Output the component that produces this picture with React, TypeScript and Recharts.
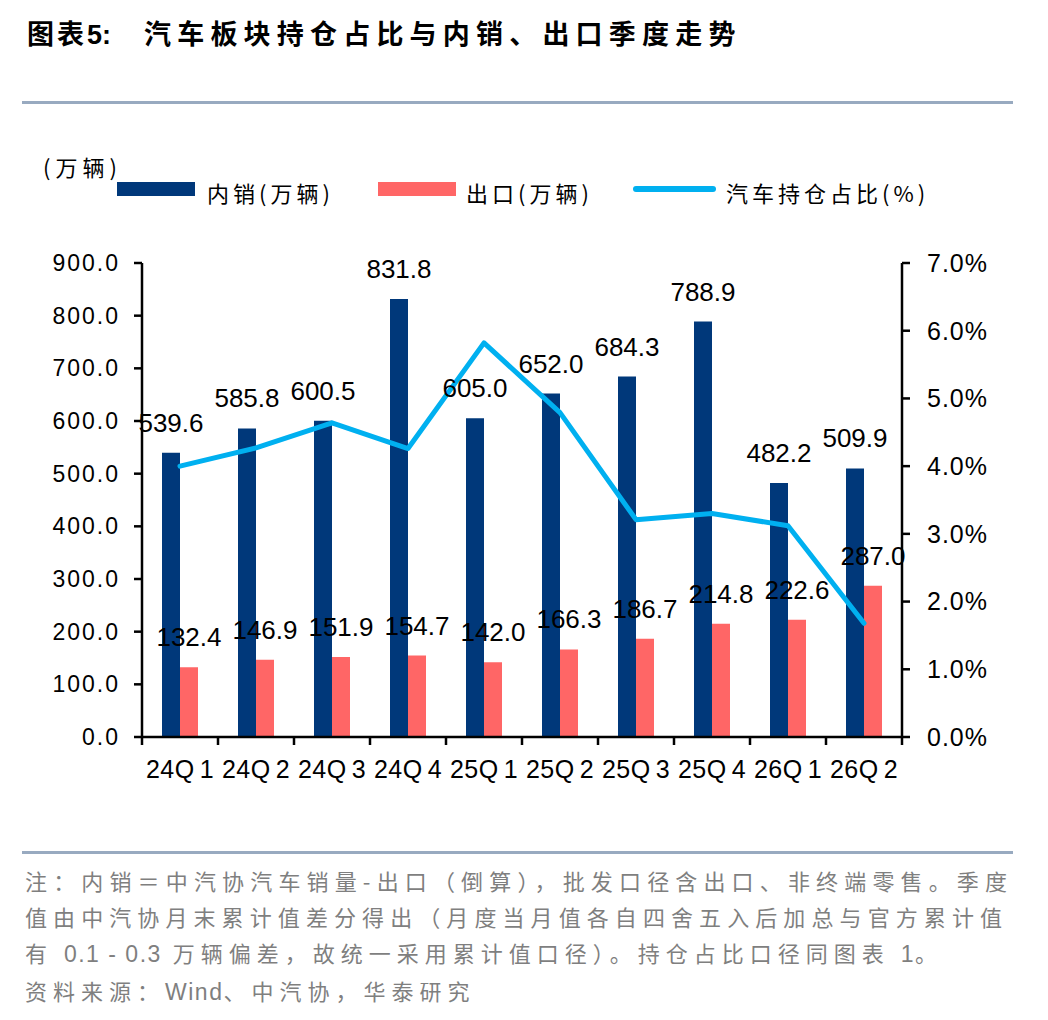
import React from 'react';
import { ComposedChart, Bar, Line, XAxis, YAxis, LabelList } from 'recharts';

const quarters = ['24Q1', '24Q2', '24Q3', '24Q4', '25Q1', '25Q2', '25Q3', '25Q4', '26Q1', '26Q2'];
const domesticSales = [539.6, 585.8, 600.5, 831.8, 605.0, 652.0, 684.3, 788.9, 482.2, 509.9];
const exportSales = [132.4, 146.9, 151.9, 154.7, 142.0, 166.3, 186.7, 214.8, 222.6, 287.0];
const holdingRatio = [4.0, 4.27, 4.64, 4.26, 5.82, 4.79, 3.21, 3.3, 3.12, 1.68];
const leftTicks = [0, 100, 200, 300, 400, 500, 600, 700, 800, 900];
const rightTicks = [0, 1, 2, 3, 4, 5, 6, 7];

const data = quarters.map((q, i) => ({
  q,
  domestic: domesticSales[i],
  exp: exportSales[i],
  ratio: holdingRatio[i],
}));

const NAVY = '#00387A';
const CORAL = '#FF6666';
const CYAN = '#00B0F0';
const LATIN = '"Liberation Sans", Arial, sans-serif';
const CJK = '"Noto Sans CJK SC", "Noto Sans", sans-serif';

const TICK_SIZE = 8;
const TICK_MARGIN = 15;

const XTick = (props: any) => {
  const { x, y, payload, index } = props;
  const half = payload && typeof payload.offset === 'number' && payload.offset > 0 ? payload.offset : 38;
  const axisY = y - TICK_SIZE - TICK_MARGIN;
  const label = String(payload.value);
  return (
    <g>
      <line x1={x - half} x2={x - half} y1={axisY} y2={axisY + TICK_SIZE} stroke="#000" strokeWidth={2.5} />
      {index === quarters.length - 1 ? (
        <line x1={x + half} x2={x + half} y1={axisY} y2={axisY + TICK_SIZE} stroke="#000" strokeWidth={2.5} />
      ) : null}
      <text x={x} y={axisY + 41} textAnchor="middle" fontSize={25} fontFamily={LATIN} letterSpacing={0.5} fill="#000">
        {label.slice(0, -1)}
        <tspan dx={5}>{label.slice(-1)}</tspan>
      </text>
    </g>
  );
};

const fmt1 = (v: any) => Number(v).toFixed(1);

const latin: React.CSSProperties = { fontFamily: LATIN, letterSpacing: 1.5, fontSize: 23 };

export default function App() {
  return (
    <div style={{ position: 'absolute', left: 0, top: 0, width: 1048, height: 1020, background: '#fff' }}>
      {/* Title */}
      <div
        style={{
          position: 'absolute',
          left: 27,
          top: 18,
          fontSize: 27,
          lineHeight: '30px',
          fontWeight: 700,
          fontFamily: CJK,
          whiteSpace: 'nowrap',
          color: '#000',
        }}
      >
        <span style={{ letterSpacing: 3 }}>图表</span>
        <span style={{ fontFamily: LATIN, fontWeight: 700 }}>5:</span>
        <span style={{ marginLeft: 33, letterSpacing: 6.2 }}>汽车板块持仓占比与内销、出口季度走势</span>
      </div>
      {/* top divider */}
      <div style={{ position: 'absolute', left: 22, top: 101, width: 991, height: 3, background: '#98AAC0' }} />

      {/* unit */}
      <div
        style={{
          position: 'absolute',
          left: 43,
          top: 154,
          fontSize: 22,
          lineHeight: '24px',
          fontFamily: CJK,
          letterSpacing: 5,
          whiteSpace: 'nowrap',
          color: '#000',
        }}
      >
        (万辆)
      </div>

      {/* legend */}
      <div style={{ position: 'absolute', left: 117, top: 182, width: 78, height: 14, background: NAVY }} />
      <div
        style={{
          position: 'absolute',
          left: 207,
          top: 180,
          fontSize: 22,
          lineHeight: '24px',
          fontFamily: CJK,
          letterSpacing: 4,
          whiteSpace: 'nowrap',
          color: '#000',
        }}
      >
        内销(万辆)
      </div>
      <div style={{ position: 'absolute', left: 378, top: 182, width: 78, height: 14, background: CORAL }} />
      <div
        style={{
          position: 'absolute',
          left: 466,
          top: 180,
          fontSize: 22,
          lineHeight: '24px',
          fontFamily: CJK,
          letterSpacing: 4,
          whiteSpace: 'nowrap',
          color: '#000',
        }}
      >
        出口(万辆)
      </div>
      <div
        style={{ position: 'absolute', left: 633, top: 186, width: 83, height: 6, borderRadius: 3, background: CYAN }}
      />
      <div
        style={{
          position: 'absolute',
          left: 726,
          top: 180,
          fontSize: 22,
          lineHeight: '24px',
          fontFamily: CJK,
          letterSpacing: 4,
          whiteSpace: 'nowrap',
          color: '#000',
        }}
      >
        汽车持仓占比(%)
      </div>

      {/* chart */}
      <div style={{ position: 'absolute', left: 0, top: 0 }}>
        <ComposedChart
          width={1048}
          height={820}
          data={data}
          margin={{ top: 263, right: 46, bottom: 33, left: 82 }}
          barGap={0}
          barSize={18}
        >
          <XAxis
            dataKey="q"
            height={50}
            axisLine={{ stroke: '#000', strokeWidth: 2.5 }}
            tickLine={false}
            tickSize={TICK_SIZE}
            tickMargin={TICK_MARGIN}
            tick={<XTick />}
            interval={0}
          />
          <YAxis
            yAxisId="left"
            orientation="left"
            width={60}
            domain={[0, 900]}
            ticks={leftTicks}
            tickFormatter={fmt1}
            axisLine={{ stroke: '#000', strokeWidth: 2.5 }}
            tickLine={{ stroke: '#000', strokeWidth: 2.5 }}
            tickSize={TICK_SIZE}
            tickMargin={14}
            tick={{ fontSize: 23, fill: '#000', fontFamily: LATIN, letterSpacing: 2 }}
            interval={0}
          />
          <YAxis
            yAxisId="right"
            orientation="right"
            width={100}
            domain={[0, 7]}
            ticks={rightTicks}
            tickFormatter={(v: any) => `${Number(v).toFixed(1)}%`}
            axisLine={{ stroke: '#000', strokeWidth: 2.5 }}
            tickLine={{ stroke: '#000', strokeWidth: 2.5 }}
            tickSize={TICK_SIZE}
            tickMargin={17}
            tick={{ fontSize: 25, fill: '#000', fontFamily: LATIN, letterSpacing: 1 }}
            interval={0}
          />
          <Bar yAxisId="left" dataKey="domestic" fill={NAVY} isAnimationActive={false}>
            <LabelList
              dataKey="domestic"
              position="top"
              offset={21}
              formatter={fmt1}
              fontSize={26}
              fill="#000"
              fontFamily={LATIN}
            />
          </Bar>
          <Bar yAxisId="left" dataKey="exp" fill={CORAL} isAnimationActive={false}>
            <LabelList
              dataKey="exp"
              position="top"
              offset={21}
              formatter={fmt1}
              fontSize={26}
              fill="#000"
              fontFamily={LATIN}
            />
          </Bar>
          <Line
            yAxisId="right"
            type="linear"
            dataKey="ratio"
            stroke={CYAN}
            strokeWidth={5}
            strokeLinejoin="round"
            strokeLinecap="round"
            dot={false}
            activeDot={false}
            isAnimationActive={false}
          />
        </ComposedChart>
      </div>

      {/* bottom divider */}
      <div style={{ position: 'absolute', left: 22, top: 851, width: 991, height: 3, background: '#98AAC0' }} />

      {/* footnote */}
      <div
        style={{
          position: 'absolute',
          left: 25,
          top: 862,
          fontSize: 22,
          lineHeight: '36px',
          fontFamily: CJK,
          color: '#7F7F7F',
          letterSpacing: 6,
          whiteSpace: 'nowrap',
        }}
      >
        <div style={{ width: 988, textAlign: 'justify', textAlignLast: 'justify' as any }}>
          注：内销＝中汽协汽车销量-出口（倒算），批发口径含出口、非终端零售。季度
        </div>
        <div style={{ width: 983, textAlign: 'justify', textAlignLast: 'justify' as any }}>
          值由中汽协月末累计值差分得出（月度当月值各自四舍五入后加总与官方累计值
        </div>
        <div>
          有 <span style={latin}>0.1 - 0.3</span> 万辆偏差，故统一采用累计值口径）。持仓占比口径同图表{' '}
          <span style={latin}>1</span>。
        </div>
        <div>
          资料来源：<span style={latin}>Wind</span>、中汽协，华泰研究
        </div>
      </div>
    </div>
  );
}
